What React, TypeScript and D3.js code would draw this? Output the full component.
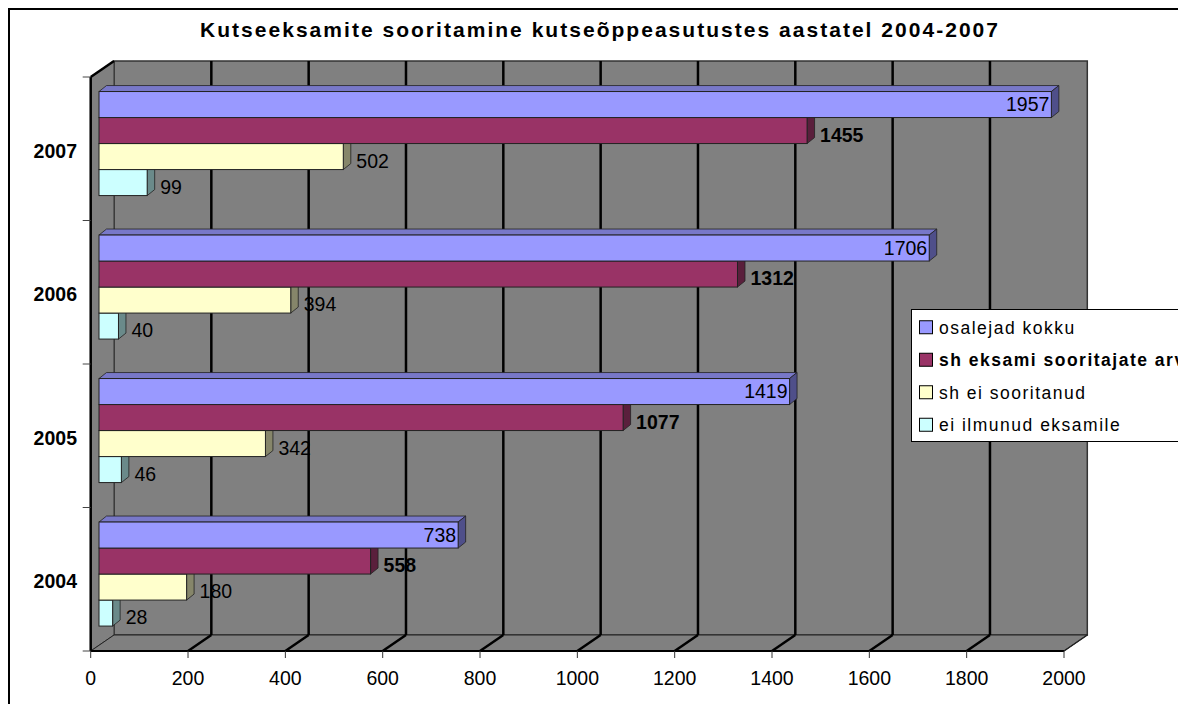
import React, { useRef, useEffect } from "react";
import * as d3 from "d3";

const title = "Kutseeksamite sooritamine kutseõppeasutustes aastatel 2004-2007";
const years = ["2007", "2006", "2005", "2004"];
const seriesNames = ["osalejad kokku", "sh eksami sooritajate arv", "sh ei sooritanud", "ei ilmunud eksamile"];
const osalejad = [1957, 1706, 1419, 738];
const sooritajad = [1455, 1312, 1077, 558];
const eiSooritanud = [502, 394, 342, 180];
const eiIlmunud = [99, 40, 46, 28];
const xTicks = [0, 200, 400, 600, 800, 1000, 1200, 1400, 1600, 1800, 2000];

const seriesValues = [osalejad, sooritajad, eiSooritanud, eiIlmunud];
const front = ["#9999ff", "#993366", "#ffffcc", "#ccffff"];
const side = ["#4f4f8a", "#5a1f3c", "#86866a", "#6a8a8a"];
const top = ["#7878c8", "#7a2850", "#d0d0a6", "#a6d0d0"];

export default function App() {
  const ref = useRef<SVGSVGElement>(null);

  useEffect(() => {
    const svg = d3.select(ref.current);
    svg.selectAll("*").remove();
    const font = "'Liberation Sans', Arial, sans-serif";

    const x = d3.scaleLinear().domain([0, 2000]).range([90.7, 1064]);
    const y = d3.scaleBand().domain(years).range([77, 651]).paddingInner(0.275).paddingOuter(0.1375);
    const yIn = d3.scaleBand().domain(seriesNames).range([0, y.bandwidth()]);
    const dx = 23.3, dy = -16; // wall depth
    const bx = 8.3, by = -5.2; // bar plane offset
    const ddx = 7.5, ddy = -6; // bar depth

    const yTop = 77, yBot = 651;

    // outer frame
    svg.append("rect").attr("x", 9).attr("y", 9).attr("width", 1400).attr("height", 900)
      .attr("fill", "white").attr("stroke", "black").attr("stroke-width", 2);

    // title
    svg.append("text").attr("x", 200).attr("y", 37).text(title)
      .attr("font-family", font).attr("font-size", 21).attr("font-weight", "bold")
      .attr("textLength", 798).attr("lengthAdjust", "spacing");

    const x0 = x(0), x1 = x(2000);
    // back wall
    svg.append("rect").attr("x", x0 + dx).attr("y", yTop + dy).attr("width", x1 - x0).attr("height", yBot - yTop)
      .attr("fill", "#808080").attr("stroke", "#333").attr("stroke-width", 1.5);
    // left wall
    svg.append("polygon")
      .attr("points", [[x0, yTop], [x0 + dx, yTop + dy], [x0 + dx, yBot + dy], [x0, yBot]].map(p => p.join(",")).join(" "))
      .attr("fill", "#808080").attr("stroke", "#333").attr("stroke-width", 1);
    // floor
    svg.append("polygon")
      .attr("points", [[x0, yBot], [x0 + dx, yBot + dy], [x1 + dx, yBot + dy], [x1, yBot]].map(p => p.join(",")).join(" "))
      .attr("fill", "#808080").attr("stroke", "#222").attr("stroke-width", 1);

    // gridlines on wall and floor
    const grid = xTicks.filter(t => t > 0 && t < 2000);
    svg.append("g").selectAll("line").data(grid).join("line")
      .attr("x1", d => x(d) + dx).attr("x2", d => x(d) + dx)
      .attr("y1", yTop + dy).attr("y2", yBot + dy)
      .attr("stroke", "black").attr("stroke-width", 2.5);
    svg.append("g").selectAll("line").data(grid).join("line")
      .attr("x1", d => x(d)).attr("x2", d => x(d) + dx)
      .attr("y1", yBot).attr("y2", yBot + dy)
      .attr("stroke", "black").attr("stroke-width", 2.5);

    // axis edges
    svg.append("line").attr("x1", x0).attr("x2", x0 + dx).attr("y1", yTop).attr("y2", yTop + dy)
      .attr("stroke", "black").attr("stroke-width", 2.5);
    svg.append("line").attr("x1", x0).attr("x2", x0).attr("y1", yTop).attr("y2", yBot)
      .attr("stroke", "black").attr("stroke-width", 2.5);
    svg.append("line").attr("x1", x0).attr("x2", x1).attr("y1", yBot).attr("y2", yBot)
      .attr("stroke", "black").attr("stroke-width", 2);
    svg.append("line").attr("x1", x1).attr("x2", x1 + dx).attr("y1", yBot).attr("y2", yBot + dy)
      .attr("stroke", "#222").attr("stroke-width", 1.5);

    // x ticks and labels
    svg.append("g").selectAll("line").data(xTicks).join("line")
      .attr("x1", d => x(d)).attr("x2", d => x(d)).attr("y1", yBot).attr("y2", yBot + 7)
      .attr("stroke", "#333").attr("stroke-width", 1);
    svg.append("g").selectAll("text").data(xTicks).join("text")
      .attr("x", d => x(d)).attr("y", 685).attr("text-anchor", "middle")
      .attr("font-family", font).attr("font-size", 19.5).text(d => d);

    // y ticks and labels
    const bounds = [...years.map(d => y(d)! - y.step() * y.paddingOuter()), yBot];
    svg.append("g").selectAll("line").data(bounds).join("line")
      .attr("x1", x0 - 8).attr("x2", x0).attr("y1", d => d).attr("y2", d => d)
      .attr("stroke", "#444").attr("stroke-width", 1);
    svg.append("g").selectAll("text").data(years).join("text")
      .attr("x", 77).attr("y", d => y(d)! + y.bandwidth() / 2 + 2 + 7)
      .attr("text-anchor", "end").attr("font-family", font).attr("font-size", 19.5).attr("font-weight", "bold")
      .text(d => d);

    // bars, drawn bottom-up inside each group
    const bars = svg.append("g");
    years.forEach((yr, yi) => {
      for (let si = seriesNames.length - 1; si >= 0; si--) {
        const v = seriesValues[si][yi];
        const xa = x(0) + bx, xb = x(v) + bx;
        const ya = y(yr)! + by + yIn(seriesNames[si])!, yb = ya + yIn.bandwidth();
        const g = bars.append("g");
        g.append("polygon")
          .attr("points", [[xa, ya], [xa + ddx, ya + ddy], [xb + ddx, ya + ddy], [xb, ya]].map(p => p.join(",")).join(" "))
          .attr("fill", top[si]).attr("stroke", "#222").attr("stroke-width", 0.8);
        g.append("polygon")
          .attr("points", [[xb, ya], [xb + ddx, ya + ddy], [xb + ddx, yb + ddy], [xb, yb]].map(p => p.join(",")).join(" "))
          .attr("fill", side[si]).attr("stroke", "#222").attr("stroke-width", 0.8);
        g.append("rect").attr("x", xa).attr("y", ya).attr("width", xb - xa).attr("height", yb - ya)
          .attr("fill", front[si]).attr("stroke", "#222").attr("stroke-width", 1);
      }
    });

    // value labels
    const labels = svg.append("g").attr("font-family", font).attr("font-size", 19.5);
    years.forEach((yr, yi) => {
      seriesValues.forEach((vals, si) => {
        const v = vals[yi];
        const yc = y(yr)! + by + yIn(seriesNames[si])! + yIn.bandwidth() / 2;
        const t = labels.append("text").text(v);
        if (si === 0) {
          t.attr("x", x(v) + bx - 2).attr("y", yc + 6.5).attr("text-anchor", "end");
        } else {
          t.attr("x", x(v) + bx + 13).attr("y", yc + 11);
          if (si === 1) t.attr("font-weight", "bold");
        }
      });
    });

    // legend (cut by the right edge, as in the source image)
    const lg = svg.append("g").attr("font-family", font).attr("font-size", 17.5);
    lg.append("rect").attr("x", 911.5).attr("y", 309.5).attr("width", 400).attr("height", 132)
      .attr("fill", "white").attr("stroke", "black").attr("stroke-width", 1);
    const ly = d3.scaleBand().domain(seriesNames).range([311, 441]);
    seriesNames.forEach((name, i) => {
      const cy = ly(name)! + ly.bandwidth() / 2;
      lg.append("rect").attr("x", 919.5).attr("y", cy - 6.5).attr("width", 13).attr("height", 13)
        .attr("fill", front[i]).attr("stroke", "black").attr("stroke-width", 1);
      lg.append("text").attr("x", 939).attr("y", cy + 6.5).text(name)
        .attr("letter-spacing", 1.5)
        .attr("font-weight", i === 1 ? "bold" : "normal");
    });
  }, []);

  return (
    <div style={{ position: "fixed", left: 0, top: 0, width: 1178, height: 704, overflow: "hidden", background: "white" }}>
      <svg ref={ref} width={1178} height={704} style={{ display: "block" }}></svg>
    </div>
  );
}
